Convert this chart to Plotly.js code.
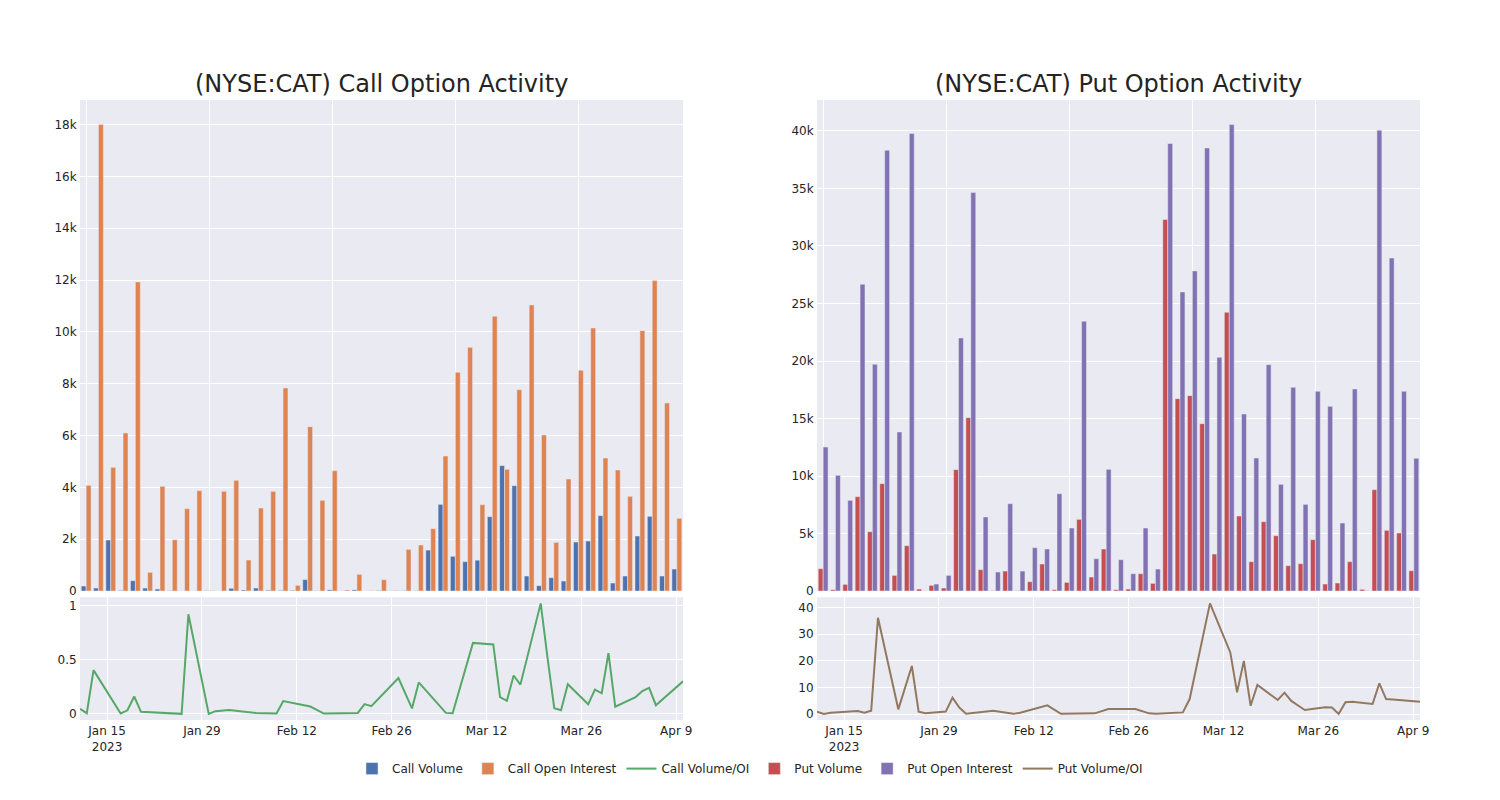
<!DOCTYPE html>
<html>
<head>
<meta charset="utf-8">
<script src="https://cdn.plot.ly/plotly-3.0.1.min.js"></script>
<style>html,body{margin:0;padding:0;background:#fff;}#chart{width:1500px;height:800px;}</style>
</head>
<body>
<div id="chart"></div>
<script>
var dates = ['2023-01-11','2023-01-12','2023-01-13','2023-01-17','2023-01-18','2023-01-19','2023-01-20','2023-01-23','2023-01-25','2023-01-26','2023-01-27','2023-01-30','2023-01-31','2023-02-01','2023-02-02','2023-02-06','2023-02-09','2023-02-10','2023-02-14','2023-02-16','2023-02-21','2023-02-22','2023-02-23','2023-02-27','2023-03-01','2023-03-02','2023-03-06','2023-03-07','2023-03-10','2023-03-13','2023-03-14','2023-03-15','2023-03-16','2023-03-17','2023-03-20','2023-03-21','2023-03-22','2023-03-23','2023-03-24','2023-03-27','2023-03-28','2023-03-29','2023-03-30','2023-03-31','2023-04-03','2023-04-04','2023-04-05','2023-04-06','2023-04-10'];

var callVolume = [193,116,1969,25,399,115,77,13,0,0,11,0,105,40,116,30,25,26,440,10,45,4,45,3,22,6,14,11,1580,3345,1340,1132,1190,2869,4838,4066,579,206,515,386,1891,1930,2908,309,579,2123,2882,579,849];
var callOpenInterest = [4079,18000,4773,6099,11927,720,4040,1981,3178,3873,12,3847,4272,1197,3204,3847,7836,219,6343,3500,4645,40,643,10,437,20,1608,1776,2406,5211,8440,9405,3332,10602,4696,7771,11039,6021,1878,4323,8517,10151,5134,4670,3654,10048,11978,7256,2805];
var callVolumeOI = [0.047,0.006,0.404,0.004,0.033,0.16,0.019,0.01,0.003,0.0,0.92,0.0,0.025,0.033,0.036,0.007,0.003,0.118,0.068,0.003,0.009,0.09,0.071,0.33,0.05,0.29,0.009,0.006,0.655,0.64,0.155,0.12,0.354,0.27,1.02,0.52,0.052,0.034,0.273,0.088,0.224,0.19,0.56,0.066,0.155,0.21,0.24,0.08,0.30];

var putVolume = [1942,116,580,8204,5160,9335,1363,3943,174,493,261,10552,15075,1855,30,1739,30,812,2348,116,754,6233,1218,3653,116,174,1508,667,32296,16727,16988,14553,3218,24236,6523,2551,6030,4812,2203,2377,4464,609,696,2551,145,8813,5276,5044,1768];
var putOpenInterest = [12524,10060,7885,26671,19713,38325,13828,39774,10,609,1363,22003,34643,6436,1652,7595,1739,3769,3653,8465,5479,23453,2812,10581,2725,1508,5479,1913,38905,26004,27830,38528,20322,40558,15394,11567,19684,9277,17713,7537,17365,16060,5914,17568,30,40064,28961,17365,11538];
var putVolumeOI = [0.9,0.05,0.5,1.1,0.5,1.25,36.1,1.75,18.0,0.9,0.25,0.9,6.1,2.4,0.1,1.25,0.05,0.5,3.25,0.05,0.25,1.1,1.9,1.9,0.25,0.05,0.6,5.6,41.5,23.1,8.1,19.9,3.1,10.9,5.25,8.0,4.9,3.2,1.5,2.5,2.4,0.05,4.4,4.6,3.75,11.5,5.6,5.4,4.6];

var titles = ['(NYSE:CAT) Call Option Activity', '(NYSE:CAT) Put Option Activity'];

var BG = 'rgb(234,234,242)';
var TXT = 'rgb(36,36,36)';
var FONT = 'DejaVu Sans';
var barLine = {width: 0.5, color: BG};

var traces = [
  {type:'bar', name:'Call Volume', x:dates, y:callVolume, xaxis:'x', yaxis:'y', marker:{color:'rgb(76,114,176)', line:barLine}},
  {type:'bar', name:'Call Open Interest', x:dates, y:callOpenInterest, xaxis:'x', yaxis:'y', marker:{color:'rgb(221,132,82)', line:barLine}},
  {type:'scatter', mode:'lines', name:'Call Volume/OI', x:dates, y:callVolumeOI, xaxis:'x3', yaxis:'y3', line:{color:'rgb(85,168,104)', width:2}},
  {type:'bar', name:'Put Volume', x:dates, y:putVolume, xaxis:'x2', yaxis:'y2', marker:{color:'rgb(196,78,82)', line:barLine}},
  {type:'bar', name:'Put Open Interest', x:dates, y:putOpenInterest, xaxis:'x2', yaxis:'y2', marker:{color:'rgb(129,114,179)', line:barLine}},
  {type:'scatter', mode:'lines', name:'Put Volume/OI', x:dates, y:putVolumeOI, xaxis:'x4', yaxis:'y4', line:{color:'rgb(147,120,96)', width:2}}
];

function ax(extra){
  var a = {showgrid:true, gridcolor:'white', gridwidth:1, linecolor:'white', zerolinecolor:'white', zerolinewidth:1, ticks:'', tickfont:{size:12, color:TXT, family:FONT}, automargin:false};
  for (var k in extra) a[k] = extra[k];
  return a;
}

var topDom = [0.208, 1], botDom = [0, 0.198];
var layout = {
  width:1500, height:800,
  paper_bgcolor:'white', plot_bgcolor:BG,
  font:{family:FONT, color:TXT, size:12},
  margin:{l:80, r:80, t:100, b:80},
  barmode:'group', bargap:0.2,
  showlegend:true,
  legend:{orientation:'h', x:0.5, xanchor:'center', y:-0.055, yanchor:'top', font:{size:12, color:TXT, family:FONT}},
  xaxis: ax({domain:[0,0.45], anchor:'y', type:'category', showticklabels:false, tickmode:'linear', tick0:0, dtick:10}),
  yaxis: ax({domain:topDom, anchor:'x'}),
  xaxis2: ax({domain:[0.55,1], anchor:'y2', type:'category', showticklabels:false, tickmode:'linear', tick0:0, dtick:10}),
  yaxis2: ax({domain:topDom, anchor:'x2'}),
  xaxis3: ax({domain:[0,0.45], anchor:'y3', type:'date'}),
  yaxis3: ax({domain:botDom, anchor:'x3'}),
  xaxis4: ax({domain:[0.55,1], anchor:'y4', type:'date'}),
  yaxis4: ax({domain:botDom, anchor:'x4'}),
  annotations:[
    {text:titles[0], xref:'paper', yref:'paper', x:0.225, y:1, xanchor:'center', yanchor:'bottom', showarrow:false, font:{size:24, color:TXT, family:FONT}},
    {text:titles[1], xref:'paper', yref:'paper', x:0.775, y:1, xanchor:'center', yanchor:'bottom', showarrow:false, font:{size:24, color:TXT, family:FONT}}
  ]
};

Plotly.newPlot('chart', traces, layout, {displayModeBar:false, responsive:false});
</script>
</body>
</html>
